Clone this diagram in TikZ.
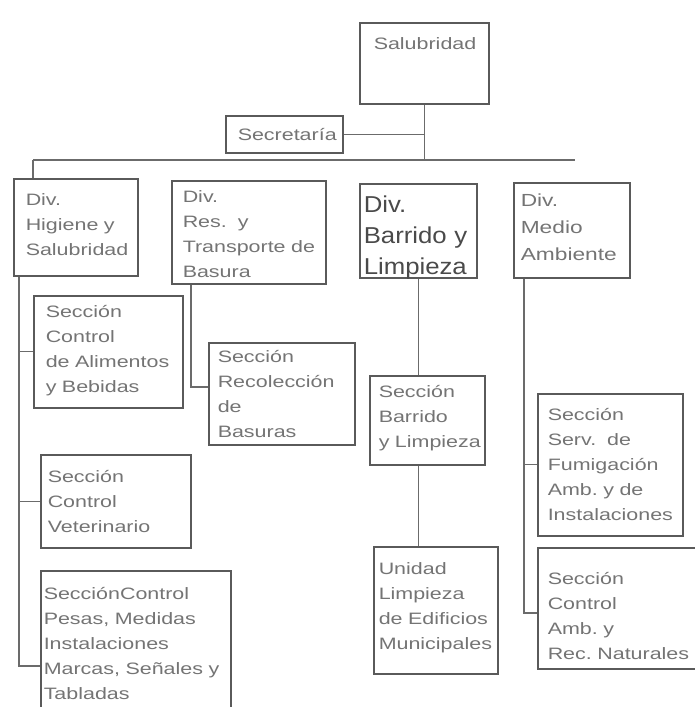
\documentclass[tikz,border=0pt]{standalone}
\usepackage{fontspec}
\setmainfont{Liberation Sans}[FakeStretch=1.3]
\newfontfamily\barfont{Liberation Sans}[FakeStretch=1.12]
\usepackage{xcolor}
\usepackage{tikz}
\usetikzlibrary{positioning}
\hyphenpenalty=10000
\exhyphenpenalty=10000
\definecolor{boxgray}{HTML}{5A5A5A}
\definecolor{txtgray}{HTML}{747474}
\definecolor{bargray}{HTML}{4A4A4A}
\tikzset{
    unit/.style = {rectangle, draw=boxgray, line width=1.5pt, anchor=north west, align=left, text=txtgray, text height=12pt, font=\fontsize{16.5}{25}\selectfont},
    unitbar/.style = {unit, text=bargray, text height=16.5pt, font=\barfont\fontsize{23}{31}\selectfont},
    unitmid/.style = {unit, text height=12.5pt, font=\fontsize{17.5}{27}\selectfont},
    link/.style = {-, draw=boxgray!90, line width=1.4pt}
}
\begin{document}
\begin{tikzpicture}[x=1pt, y=-1pt]
\useasboundingbox (0,0) rectangle (694,707);
% top
\node[unit, text width=101, inner xsep=14pt, inner ysep=15pt, text depth=39pt] (salud) at (359,22) {Salubridad};
\node[unit, text width=93, inner xsep=12pt, inner ysep=12.5pt, text depth=0pt] (secre) at (225,115) {Secretaría};
% divisiones
\node[unit, text width=100, inner xsep=12pt, inner ysep=15pt, text depth=55pt] (divhig) at (13,178) {Div.\\Higiene~y\\Salubridad};
\node[unit, text width=132, inner xsep=11pt, inner ysep=10pt, text depth=71pt] (divres) at (171,180) {Div.\\Res.~~y\\Transporte~de\\Basura};
\node[unitbar, text width=109, inner xsep=4pt, inner ysep=12pt, text depth=53.5pt] (divbar) at (359,183) {Div.\\Barrido~y\\Limpieza};
\node[unitmid, text width=102, inner xsep=7pt, inner ysep=11pt, text depth=60.5pt] (divmed) at (513,182) {Div.\\Medio\\Ambiente};
% secciones
\node[unit, text width=125, inner xsep=12pt, inner ysep=10pt, text depth=80pt] (secali) at (33,295) {Sección\\Control\\de~Alimentos\\y~Bebidas};
\node[unit, text width=136, inner xsep=7pt, inner ysep=16pt, text depth=49pt] (secvet) at (40,454) {Sección\\Control\\Veterinario};
\node[unit, text width=184, inner xsep=3pt, inner ysep=17pt, text depth=94pt] (secpes) at (40,570) {SecciónControl\\Pesas,~Medidas\\Instalaciones\\Marcas,~Señales~y\\Tabladas};
\node[unit, text width=128, inner xsep=9pt, inner ysep=8pt, text depth=74pt] (secrec) at (208,342) {Sección\\Recolección\\de\\Basuras};
\node[unit, text width=97, inner xsep=9pt, inner ysep=10pt, text depth=57pt] (secbar) at (369,375) {Sección\\Barrido\\y~Limpieza};
\node[unit, text width=114, inner xsep=5pt, inner ysep=16pt, text depth=83pt] (unidad) at (373,546) {Unidad\\Limpieza\\de~Edificios\\Municipales};
\node[unit, text width=125, inner xsep=10pt, inner ysep=15pt, text depth=100pt] (secfum) at (537,393) {Sección\\Serv.~~de\\Fumigación\\Amb.~y~de\\Instalaciones};
\node[unit, text width=150, inner xsep=10pt, inner ysep=25pt, text depth=59pt] (secrn) at (537,547) {Sección\\Control\\Amb.~y\\Rec.~Naturales};
%
\coordinate (busL) at (33,160);
\coordinate (busR) at (575,160);
\coordinate (hig1) at (19,666);
\coordinate (res1) at (191,387);
\coordinate (med1) at (524,613);
%
\draw[link] (salud) -- (salud |- busR);
\draw[link] (secre.east) -- (secre.east -| salud);
\draw[link] (busL) -- (busR);
\draw[link] (busL) -- (busL |- divhig.north);
%
\draw[link] (hig1 |- divhig.south) -- (hig1) -- (hig1 -| secpes.west);
\draw[link] (hig1 |- secali.west) -- (secali.west);
\draw[link] (hig1 |- secvet.west) -- (secvet.west);
%
\draw[link] (res1 |- divres.south) -- (res1) -- (res1 -| secrec.west);
%
\draw[link] (divbar.south) -- (divbar.south |- secbar.north);
\draw[link] (divbar.south |- secbar.south) -- (divbar.south |- unidad.north);
%
\draw[link] (med1 |- divmed.south) -- (med1) -- (med1 -| secrn.west);
\draw[link] (med1 |- secfum.west) -- (secfum.west);
\end{tikzpicture}
\end{document}
